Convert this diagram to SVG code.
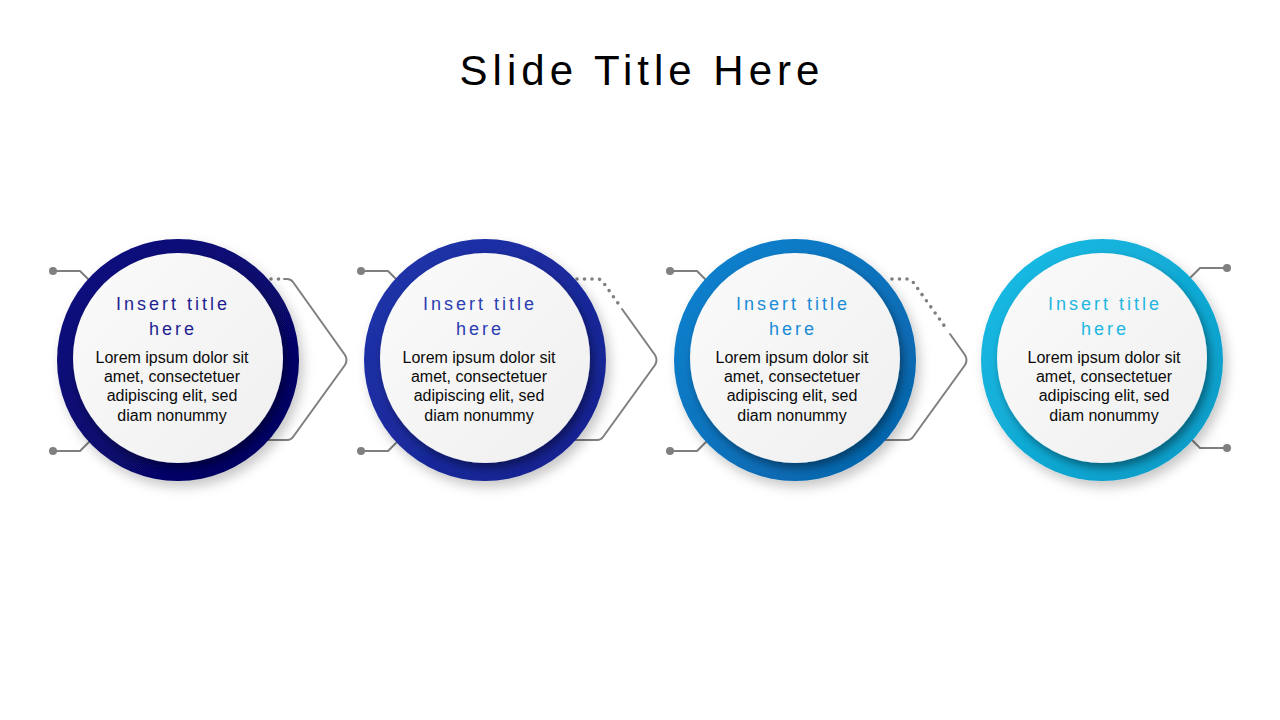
<svg xmlns="http://www.w3.org/2000/svg" width="1280" height="720" viewBox="0 0 1280 720">
  <defs>
    <style>
      .title{font-family:"Liberation Sans","Open Sans",Arial,sans-serif;font-size:42px;fill:#000;letter-spacing:5px}
      .ntitle{font-family:"Liberation Sans","Open Sans",Arial,sans-serif;font-size:18px;letter-spacing:3px}
      .body{font-family:"Liberation Sans","Open Sans",Arial,sans-serif;font-size:16px;fill:#0a0a0a}
      .ln{fill:none;stroke:#7f7f7f;stroke-width:2;stroke-linecap:round;stroke-linejoin:round}
      .dot{fill:none;stroke:#7f7f7f;stroke-width:3.6;stroke-linecap:round;stroke-dasharray:0 7.5}
      .pin{fill:#808080}
      .inner{fill:url(#gWhite);filter:url(#fIn)}
    </style>
    <linearGradient id="gWhite" x1="0" y1="0" x2="1" y2="1">
      <stop offset="0" stop-color="#fbfbfb"/>
      <stop offset="1" stop-color="#efefef"/>
    </linearGradient>
    <linearGradient id="g1" x1="0" y1="0" x2="1" y2="1">
      <stop offset="0" stop-color="#0d0d82"/>
      <stop offset="1" stop-color="#03035c"/>
    </linearGradient>
    <linearGradient id="g2" x1="0" y1="0" x2="1" y2="1">
      <stop offset="0" stop-color="#2234ac"/>
      <stop offset="1" stop-color="#12208c"/>
    </linearGradient>
    <linearGradient id="g3" x1="0" y1="0" x2="1" y2="1">
      <stop offset="0" stop-color="#0c84d2"/>
      <stop offset="1" stop-color="#0560a6"/>
    </linearGradient>
    <linearGradient id="g4" x1="0" y1="0" x2="1" y2="1">
      <stop offset="0" stop-color="#18bde6"/>
      <stop offset="1" stop-color="#0a98c4"/>
    </linearGradient>
    <filter id="fOut" x="-20%" y="-20%" width="140%" height="140%">
      <feDropShadow dx="4" dy="6" stdDeviation="6" flood-color="#000" flood-opacity="0.22"/>
    </filter>
    <filter id="fIn" x="-20%" y="-20%" width="140%" height="140%">
      <feDropShadow dx="3" dy="5" stdDeviation="4" flood-color="#000" flood-opacity="0.4"/>
    </filter>
  </defs>

  <rect width="1280" height="720" fill="#fff"/>

  <text class="title" x="642" y="85" text-anchor="middle">Slide Title Here</text>

  <g id="connectors">
    <path class="ln" d="M53 271 H80 L92 283"/>
    <path class="ln" d="M53 451 H80 L92 439"/>
    <circle class="pin" cx="53" cy="271" r="4"/>
    <circle class="pin" cx="53" cy="451" r="4"/>
    <path class="ln" d="M361 271 H388 L400 283"/>
    <path class="ln" d="M361 451 H388 L400 439"/>
    <circle class="pin" cx="361" cy="271" r="4"/>
    <circle class="pin" cx="361" cy="451" r="4"/>
    <path class="ln" d="M670 271 H697 L709 283"/>
    <path class="ln" d="M670 451 H697 L709 439"/>
    <circle class="pin" cx="670" cy="271" r="4"/>
    <circle class="pin" cx="670" cy="451" r="4"/>
    <path class="ln" d="M1227 268 H1200 L1188 280"/>
    <path class="ln" d="M1227 448 H1200 L1188 436"/>
    <circle class="pin" cx="1227" cy="268" r="4"/>
    <circle class="pin" cx="1227" cy="448" r="4"/>
    <path class="dot" d="M256 279 H282"/>
    <path class="ln" d="M284 279 H287 Q291 279 293 282 L345 355 Q348 360 345 365 L293 437 Q291 440 287 440 H262"/>
    <path class="dot" d="M577 279 H597 Q601 279 603 282 L620 306"/>
    <path class="ln" d="M622 309 L655 355 Q658 360 655 365 L603 437 Q601 440 597 440 H570"/>
    <path class="dot" d="M892 279 H907 Q911 279 913 282 L948 331"/>
    <path class="ln" d="M950 334 L965 355 Q968 360 965 365 L913 437 Q911 440 907 440 H880"/>
  </g>

  <g id="node1">
    <circle cx="178" cy="360" r="121" fill="url(#g1)" filter="url(#fOut)"/>
    <circle class="inner" cx="178" cy="358" r="105"/>
    <text class="ntitle" x="173" y="310" text-anchor="middle" fill="#1f1f92">Insert title</text>
    <text class="ntitle" x="173" y="335" text-anchor="middle" fill="#1f1f92">here</text>
    <text class="body" x="172" y="363" text-anchor="middle">Lorem ipsum dolor sit</text>
    <text class="body" x="172" y="382" text-anchor="middle">amet, consectetuer</text>
    <text class="body" x="172" y="401" text-anchor="middle">adipiscing elit, sed</text>
    <text class="body" x="172" y="421" text-anchor="middle">diam nonummy</text>
  </g>

  <g id="node2">
    <circle cx="485" cy="360" r="121" fill="url(#g2)" filter="url(#fOut)"/>
    <circle class="inner" cx="485" cy="358" r="105"/>
    <text class="ntitle" x="480" y="310" text-anchor="middle" fill="#2a3db2">Insert title</text>
    <text class="ntitle" x="480" y="335" text-anchor="middle" fill="#2a3db2">here</text>
    <text class="body" x="479" y="363" text-anchor="middle">Lorem ipsum dolor sit</text>
    <text class="body" x="479" y="382" text-anchor="middle">amet, consectetuer</text>
    <text class="body" x="479" y="401" text-anchor="middle">adipiscing elit, sed</text>
    <text class="body" x="479" y="421" text-anchor="middle">diam nonummy</text>
  </g>

  <g id="node3">
    <circle cx="795" cy="360" r="121" fill="url(#g3)" filter="url(#fOut)"/>
    <circle class="inner" cx="795" cy="358" r="105"/>
    <text class="ntitle" x="793" y="310" text-anchor="middle" fill="#1a8cd8">Insert title</text>
    <text class="ntitle" x="793" y="335" text-anchor="middle" fill="#1a8cd8">here</text>
    <text class="body" x="792" y="363" text-anchor="middle">Lorem ipsum dolor sit</text>
    <text class="body" x="792" y="382" text-anchor="middle">amet, consectetuer</text>
    <text class="body" x="792" y="401" text-anchor="middle">adipiscing elit, sed</text>
    <text class="body" x="792" y="421" text-anchor="middle">diam nonummy</text>
  </g>

  <g id="node4">
    <circle cx="1102" cy="360" r="121" fill="url(#g4)" filter="url(#fOut)"/>
    <circle class="inner" cx="1102" cy="358" r="105"/>
    <text class="ntitle" x="1105" y="310" text-anchor="middle" fill="#22b6e2">Insert title</text>
    <text class="ntitle" x="1105" y="335" text-anchor="middle" fill="#22b6e2">here</text>
    <text class="body" x="1104" y="363" text-anchor="middle">Lorem ipsum dolor sit</text>
    <text class="body" x="1104" y="382" text-anchor="middle">amet, consectetuer</text>
    <text class="body" x="1104" y="401" text-anchor="middle">adipiscing elit, sed</text>
    <text class="body" x="1104" y="421" text-anchor="middle">diam nonummy</text>
  </g>
</svg>
